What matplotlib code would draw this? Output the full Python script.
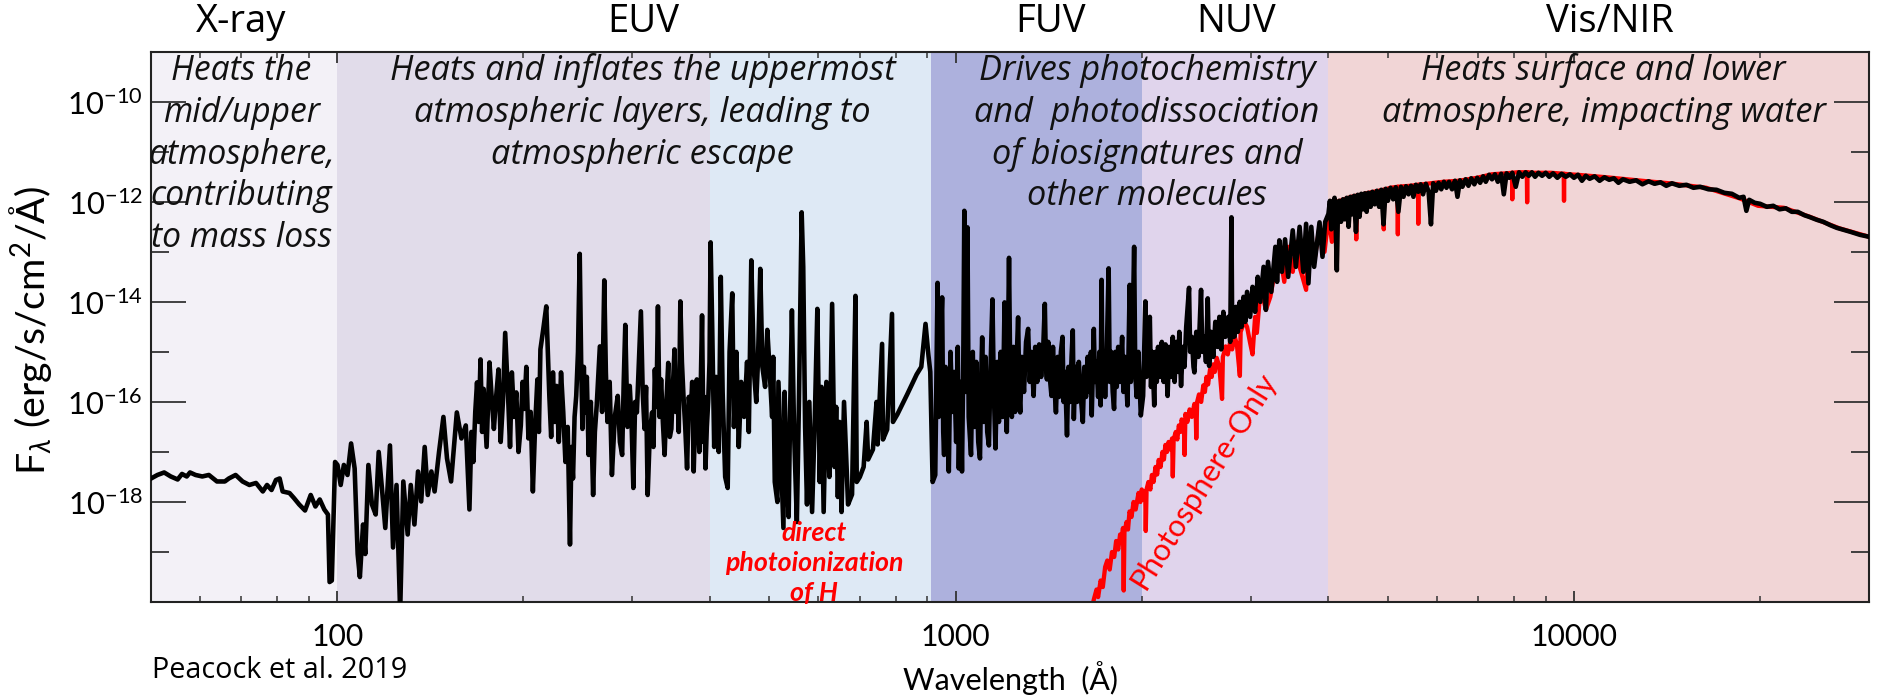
import numpy as np
import matplotlib
matplotlib.use('Agg')
import matplotlib.pyplot as plt
import matplotlib.transforms as mtransforms
from matplotlib.ticker import FixedLocator, FixedFormatter, NullFormatter

plt.rcParams.update({
    'font.family': 'Lato',
    'mathtext.fontset': 'custom',
    'mathtext.rm': 'Lato',
    'mathtext.it': 'Lato:italic',
    'mathtext.bf': 'Lato:bold',
})

# Spectral bands (Angstrom)
band_edges = [50, 100, 400, 912, 2000, 4000, 30000]
band_colors = ['#F3F1F7', '#E1DCEA', '#DEE9F5', '#ADB1DD', '#E0D4EC', '#F1D5D6']
band_names = ['X-ray', 'EUV', 'FUV', 'NUV', 'Vis/NIR']
band_name_wave = [70, 312, 1423, 2845, 11440]

# Full spectrum (black): (wavelength, log10 flux)
xray_pts = [(50.0, -17.53), (51.2, -17.46), (52.5, -17.41), (53.8, -17.49), (55.2, -17.55),
            (56.1, -17.44), (57.1, -17.49), (57.8, -17.41), (59.0, -17.46), (60.5, -17.49),
            (62.0, -17.46), (63.9, -17.59), (65.8, -17.59), (66.8, -17.53), (68.5, -17.46),
            (70.3, -17.59), (72.1, -17.66), (73.9, -17.62), (75.8, -17.79), (77.0, -17.66),
            (78.3, -17.76), (79.6, -17.56), (80.7, -17.53), (81.6, -17.79), (83.7, -17.82),
            (85.1, -17.92), (86.8, -18.05), (88.7, -18.17), (90.6, -17.86), (92.2, -18.09),
            (93.7, -17.95), (95.3, -18.15), (96.6, -18.25), (97.2, -19.60), (98.0, -19.57)]

euv_pts = [(99.2, -17.20), (100.1, -17.26), (101.3, -17.66), (102.5, -17.26), (103.9, -17.46),
           (105.3, -16.83), (106.7, -17.33), (107.9, -19.04), (108.8, -19.50), (110.1, -18.45),
           (111.0, -19.04), (112.3, -17.26), (113.8, -18.05), (115.4, -18.25), (116.7, -17.00),
           (118.1, -17.72), (119.6, -18.52), (121.7, -16.87), (123.1, -18.91), (124.7, -17.66),
           (126.4, -20.20), (127.9, -17.59), (130.0, -18.65), (131.5, -17.66), (133.3, -18.45),
           (135.1, -17.39), (136.7, -17.99), (138.5, -16.90), (140.1, -17.86), (142.0, -17.39),
           (143.7, -17.79), (146.1, -17.00), (148.5, -16.30), (150.5, -17.13), (152.8, -17.59),
           (156.1, -16.21), (158.8, -16.73), (161.4, -16.47), (162.5, -17.30), (163.6, -18.15),
           (164.8, -16.60), (166.0, -17.20), (167.2, -16.20), (168.3, -15.61), (169.4, -16.40),
           (170.5, -15.15), (171.5, -16.60), (172.5, -15.74), (174.4, -16.90), (176.3, -15.21),
           (177.7, -15.90), (179.2, -16.54), (180.7, -15.90), (182.3, -15.35), (183.8, -16.80),
           (185.3, -16.01), (186.9, -14.62), (189.1, -16.01), (190.3, -16.90), (191.6, -15.41),
           (193.2, -16.30), (194.8, -15.81), (196.4, -17.00), (198.1, -16.47), (199.4, -15.60),
           (200.7, -16.14), (202.2, -15.30), (203.8, -16.73), (205.5, -16.20), (207.2, -17.79),
           (208.9, -16.50), (210.7, -15.55), (211.9, -16.60), (213.1, -14.95), (215.3, -14.56),
           (217.8, -14.09), (220.3, -15.88), (221.8, -16.70), (223.3, -15.41), (224.8, -16.40),
           (226.3, -15.68), (228.2, -16.80), (230.1, -15.41), (232.0, -16.20), (233.9, -17.20),
           (235.9, -16.50), (237.9, -18.85), (239.2, -16.90), (240.6, -17.53), (242.0, -16.30),
           (243.5, -15.88), (245.1, -15.00), (246.7, -13.04), (248.0, -15.20), (249.2, -16.54),
           (250.5, -15.30), (251.7, -16.21), (253.3, -15.50), (255.0, -17.06), (257.1, -16.00),
           (259.3, -17.86), (261.0, -16.60), (262.8, -16.07), (265.9, -14.89), (268.1, -16.20),
           (270.3, -13.57), (271.9, -15.40), (273.5, -16.40), (275.8, -15.60), (278.1, -17.46),
           (281.1, -16.30), (284.2, -15.88), (286.5, -16.80), (288.9, -17.06), (290.6, -15.60),
           (292.3, -14.46), (294.7, -16.50), (297.2, -15.68), (299.2, -16.40), (301.2, -17.72),
           (303.2, -16.00), (305.2, -16.21), (307.5, -15.20), (309.8, -14.19), (311.9, -15.80),
           (314.0, -16.54), (315.8, -15.70), (317.7, -17.86), (320.3, -16.60), (323.0, -16.21),
           (324.6, -16.90), (326.3, -15.35), (328.2, -16.10), (330.1, -14.09), (332.0, -16.30),
           (334.0, -15.55), (336.2, -16.40), (338.4, -17.06), (340.7, -16.00), (343.0, -15.22),
           (345.0, -16.70), (347.0, -16.54), (349.0, -15.70), (351.1, -14.95), (352.8, -16.20),
           (354.6, -15.55), (356.7, -16.60), (358.8, -13.99), (360.9, -15.20), (363.0, -15.88),
           (365.4, -16.50), (367.9, -17.33), (370.3, -15.90), (372.8, -16.27), (375.0, -15.60),
           (377.1, -17.39), (379.3, -16.20), (381.5, -15.55), (383.2, -16.30), (385.0, -17.00),
           (387.0, -15.80), (389.0, -14.27), (391.0, -16.80), (392.5, -15.90), (394.0, -17.33),
           (396.0, -16.50), (398.0, -16.00), (400.0, -15.20)]

lyc_pts = [(401.6, -12.81), (404, -14.50), (407, -16.90), (410, -15.50), (414, -17.00),
           (417.1, -13.50), (420, -15.80), (424, -17.50), (428, -17.72), (431, -15.00),
           (435.3, -13.83), (438, -16.50), (442, -15.00), (446, -16.90), (450, -15.60),
           (455, -16.30), (460, -15.20), (463, -16.60), (467.3, -13.17), (472, -15.40),
           (476, -16.00), (479, -15.20), (483.2, -13.34), (487, -15.30), (492, -15.70),
           (496, -14.56), (500, -15.30), (505, -16.30), (507, -15.10), (510, -17.60),
           (515, -18.00), (517, -15.60), (520, -16.50), (526.7, -18.52), (529, -15.80),
           (532, -17.00), (537, -18.30), (540, -16.20), (543.6, -14.17), (548, -16.60),
           (553.7, -18.40), (558, -16.00), (563.7, -12.21), (567, -13.30), (571, -16.50),
           (575, -18.05), (580, -16.00), (583, -17.10), (586, -18.20), (591.8, -16.40),
           (597.6, -14.14), (603, -17.60), (607, -15.70), (611.8, -18.20), (618, -15.60),
           (625, -17.50), (631.4, -14.04), (637, -17.30), (641, -16.10), (645, -17.90),
           (649, -16.40), (653.9, -18.20), (660, -16.00), (670, -18.05), (680, -17.85),
           (688.7, -13.88), (692, -17.60), (700, -17.50), (710, -17.30), (718, -16.40),
           (722, -17.15), (735, -16.95), (745, -16.00), (748, -16.85), (760.5, -14.84),
           (763, -16.75), (775, -16.55), (789.1, -14.24), (792, -16.40), (805, -16.25),
           (820, -16.05), (835, -15.85), (850, -15.65), (865, -15.45), (880, -15.30),
           (894, -14.44), (904, -15.08)]

fuv_pts = [(910, -15.40), (918, -17.60), (927, -17.46), (932, -15.00), (935, -13.62),
           (939, -16.30), (945, -15.00), (951, -13.91), (955, -16.60), (958, -17.06),
           (963, -15.30), (969, -16.40), (975, -17.39), (981, -15.00), (988, -16.20),
           (995, -15.40), (1002, -16.80), (1008, -14.90), (1012, -17.33), (1018, -15.60),
           (1024, -17.39), (1029, -15.20), (1033, -12.18), (1038, -15.80), (1045, -12.51),
           (1050, -16.30), (1059, -17.06), (1066, -15.00), (1073, -16.50), (1080, -15.20),
           (1088, -16.80), (1095, -17.13), (1100, -15.50), (1104, -14.71), (1110, -16.40),
           (1118, -15.10), (1125, -16.60), (1132, -16.87), (1139, -15.30), (1147, -13.95),
           (1153, -15.80), (1160, -16.93), (1168, -15.20), (1175, -16.40), (1183, -15.00),
           (1192, -16.30), (1200, -14.01), (1206, -15.90), (1210, -16.60), (1215, -15.00),
           (1220, -13.12), (1226, -15.70), (1233, -16.30), (1240, -14.90), (1248, -16.20),
           (1255, -15.20), (1262, -14.31), (1268, -15.90), (1272, -16.21), (1280, -15.10),
           (1290, -15.80), (1300, -14.80), (1310, -14.54), (1318, -15.60), (1326, -15.00),
           (1337, -15.88), (1345, -14.90), (1355, -15.60), (1365, -14.85), (1375, -15.50),
           (1385, -15.00), (1394, -14.04), (1400, -15.30), (1405, -15.55), (1412, -14.80),
           (1420, -15.50), (1429, -15.88), (1437, -14.90), (1445, -15.70), (1453, -16.21),
           (1462, -15.10), (1470, -15.90), (1480, -15.00), (1489, -14.70), (1495, -16.00),
           (1503, -15.40), (1514, -16.67), (1522, -15.30), (1532, -16.00), (1540, -15.10),
           (1547, -14.57), (1553, -16.34), (1562, -15.30), (1572, -16.00), (1582, -15.20),
           (1594, -15.90), (1606, -16.40), (1615, -15.30), (1625, -15.90), (1635, -15.10),
           (1645, -15.80), (1655, -15.00), (1660, -16.27), (1673, -14.54), (1680, -15.60),
           (1690, -15.20), (1700, -15.90), (1708, -15.00), (1716, -16.07), (1722, -13.56),
           (1728, -15.50), (1735, -15.00), (1745, -15.90), (1755, -15.10), (1768, -13.33),
           (1775, -15.60), (1785, -15.00), (1795, -15.80), (1804, -16.14), (1812, -15.00),
           (1822, -15.70), (1832, -14.90), (1845, -15.60), (1859, -14.70), (1868, -15.80),
           (1880, -15.10), (1896, -16.07), (1904, -15.00), (1912, -13.66), (1920, -15.60),
           (1930, -15.10), (1944, -12.90), (1952, -15.40), (1962, -15.90), (1975, -15.00),
           (1993, -16.27)]

nuv_pts = [(2010, -15.88), (2020, -14.80), (2027, -13.99), (2035, -15.50), (2045, -15.00),
           (2061, -14.30), (2070, -15.70), (2080, -15.00), (2095, -16.07), (2105, -15.00),
           (2115, -15.60), (2125, -14.90), (2140, -15.50), (2155, -14.80), (2170, -15.60),
           (2185, -14.85), (2202, -15.88), (2215, -14.90), (2230, -15.50), (2245, -14.70),
           (2260, -15.60), (2275, -14.80), (2290, -15.40), (2300, -14.60), (2315, -15.68),
           (2330, -14.90), (2345, -15.30), (2360, -14.50), (2385, -13.72), (2395, -15.00),
           (2410, -14.70), (2425, -15.30), (2433, -15.41), (2450, -14.60), (2470, -15.10),
           (2494, -13.76), (2505, -15.00), (2525, -14.70), (2540, -15.20), (2557, -13.93),
           (2570, -15.28), (2590, -14.60), (2610, -15.10), (2630, -14.40), (2650, -14.90),
           (2670, -14.30), (2688, -14.95), (2710, -14.20), (2730, -14.70), (2760, -14.30),
           (2780, -14.80), (2793, -12.31), (2800, -14.40), (2815, -14.70), (2826, -14.69),
           (2840, -14.10), (2860, -14.60), (2880, -14.00), (2900, -14.50), (2921, -13.90),
           (2940, -14.40), (2960, -13.80), (2994, -14.30), (3021, -13.70), (3050, -14.20),
           (3080, -13.50), (3110, -14.00), (3148, -13.30), (3175, -14.16), (3200, -13.20),
           (3240, -13.80), (3289, -12.90), (3310, -13.60), (3338, -12.77), (3370, -13.40),
           (3410, -12.75), (3450, -13.50), (3509, -12.57), (3550, -13.30), (3600, -12.50),
           (3650, -13.40), (3688, -12.44), (3720, -13.63), (3760, -12.50), (3800, -13.30),
           (3877, -12.41), (3920, -13.10), (3960, -12.40)]

vis_pts = [(4008, -12.24), (4030, -11.98), (4050, -12.55), (4075, -12.05), (4100, -11.92),
           (4120, -12.60), (4135, -13.37), (4150, -12.30), (4170, -11.98), (4200, -12.40),
           (4230, -11.95), (4260, -12.35), (4290, -11.92), (4320, -12.50), (4350, -11.90),
           (4380, -12.25), (4410, -11.88), (4440, -12.60), (4470, -11.86), (4500, -12.30),
           (4530, -11.84), (4560, -12.15), (4590, -11.83), (4620, -12.20), (4650, -11.82),
           (4690, -12.10), (4720, -11.80), (4760, -12.05), (4800, -11.78), (4840, -12.10),
           (4880, -11.76), (4920, -12.45), (4960, -11.74), (5000, -11.98), (5050, -11.72),
           (5100, -11.95), (5150, -11.71), (5200, -12.20), (5250, -11.70), (5300, -11.90),
           (5350, -11.69), (5400, -11.85), (5450, -11.68), (5500, -11.90), (5550, -11.66),
           (5600, -11.80), (5650, -11.65), (5700, -11.85), (5760, -11.64), (5820, -11.80),
           (5871, -12.45), (5920, -11.63), (5980, -11.78), (6040, -11.62), (6100, -11.75),
           (6161, -11.60), (6220, -11.72), (6280, -11.60), (6350, -11.75), (6420, -11.58),
           (6480, -11.90), (6540, -11.57), (6600, -11.70), (6680, -11.55), (6750, -11.68),
           (6820, -11.53), (6900, -11.65), (6974, -11.52), (7050, -11.62), (7130, -11.49),
           (7200, -11.60), (7290, -11.46), (7368, -11.55), (7450, -11.45), (7530, -11.60),
           (7626, -11.44), (7700, -11.85), (7780, -11.43), (7860, -11.52), (7947, -11.42),
           (8050, -11.70), (8150, -11.41), (8250, -11.50), (8350, -11.41), (8450, -11.48),
           (8550, -11.41), (8650, -11.50), (8760, -11.42), (8880, -11.48), (9000, -11.42),
           (9120, -11.50), (9250, -11.43), (9400, -11.52), (9550, -11.44), (9700, -11.50),
           (9850, -11.45), (10000, -11.52), (10150, -11.46), (10300, -11.58), (10450, -11.48),
           (10600, -11.54), (10800, -11.49), (11000, -11.58), (11200, -11.51), (11400, -11.56),
           (11600, -11.53), (11800, -11.62), (12000, -11.55), (12300, -11.60), (12600, -11.57),
           (12900, -11.65), (13200, -11.59), (13500, -11.64), (13800, -11.61), (14100, -11.68),
           (14400, -11.63), (14800, -11.68), (15200, -11.66), (15600, -11.72), (16000, -11.70),
           (16500, -11.75), (17000, -11.76), (17500, -11.82), (18000, -11.84), (18500, -11.92),
           (18800, -11.90), (19000, -12.18), (19200, -11.96), (19600, -12.02), (20000, -12.04),
           (20500, -12.10), (21000, -12.08), (21500, -12.15), (22000, -12.13), (22500, -12.20),
           (23000, -12.20), (23600, -12.27), (24000, -12.30), (24700, -12.36), (25300, -12.40),
           (26000, -12.47), (26600, -12.52), (27300, -12.56), (28000, -12.60), (29000, -12.66),
           (30018, -12.70)]

# Photosphere-only model (red)
phot_pts = [(1650, -20.30), (1673, -19.95), (1690, -19.75), (1700, -19.90), (1716, -19.57),
            (1730, -19.70), (1745, -19.30), (1759, -19.17), (1775, -19.35), (1790, -19.00),
            (1805, -19.10), (1818, -18.78), (1832, -18.95), (1845, -18.65), (1855, -18.80),
            (1865, -18.52), (1870, -19.77), (1875, -18.60), (1890, -18.40), (1900, -18.55),
            (1911, -18.19), (1925, -18.30), (1940, -18.00), (1955, -18.15), (1976, -17.82),
            (1990, -18.00), (2000, -17.75), (2015, -17.95), (2026, -17.79), (2030, -18.58),
            (2036, -17.75), (2050, -17.60), (2065, -17.75), (2077, -17.46), (2090, -17.60),
            (2105, -17.30), (2118, -17.45), (2130, -17.16), (2145, -17.30), (2160, -17.00),
            (2172, -17.15), (2184, -16.86), (2197, -17.00), (2210, -16.80), (2225, -16.95),
            (2239, -16.73), (2245, -17.49), (2252, -16.75), (2270, -16.60), (2283, -16.75),
            (2296, -16.47), (2310, -16.60), (2320, -16.35), (2340, -16.50), (2346, -17.06),
            (2353, -16.24), (2370, -16.40), (2390, -16.15), (2410, -16.30), (2433, -16.04),
            (2445, -16.20), (2450, -16.73), (2458, -16.00), (2475, -15.85), (2495, -16.00),
            (2515, -15.67), (2530, -15.80), (2545, -15.50), (2560, -15.65), (2579, -15.35),
            (2595, -15.50), (2610, -15.25), (2625, -15.40), (2644, -15.12), (2670, -15.30),
            (2697, -15.94), (2705, -15.10), (2720, -15.00), (2733, -14.89), (2755, -15.05),
            (2780, -14.80), (2800, -14.95), (2826, -14.69), (2850, -14.85), (2882, -15.48),
            (2890, -14.60), (2910, -14.50), (2921, -14.36), (2960, -14.50), (2994, -14.82),
            (3021, -15.05), (3050, -14.30), (3070, -14.62), (3100, -14.00), (3148, -13.96),
            (3175, -14.16), (3228, -13.90), (3260, -13.60), (3309, -13.47), (3340, -13.00),
            (3400, -13.60), (3450, -12.90), (3509, -13.40), (3560, -12.80), (3600, -13.30),
            (3688, -13.76), (3720, -12.70), (3800, -13.20), (3877, -12.50), (3950, -13.00),
            (4008, -12.30), (4060, -12.80), (4130, -12.00), (4135, -13.30), (4140, -12.00),
            (4250, -11.95), (4369, -11.90), (4440, -11.88), (4445, -12.75), (4450, -11.88),
            (4617, -11.83), (4746, -11.80), (4920, -11.76), (4925, -12.55), (4930, -11.76),
            (5050, -11.72), (5185, -11.70), (5190, -12.65), (5195, -11.70), (5300, -11.69),
            (5443, -11.68), (5595, -11.66), (5600, -12.44), (5605, -11.66), (5700, -11.65),
            (5950, -11.62), (6161, -11.60), (6510, -11.58), (6974, -11.52), (7368, -11.45),
            (7800, -11.43), (7940, -11.42), (7947, -11.95), (7954, -11.42), (8100, -11.41),
            (8390, -11.41), (8399, -12.01), (8408, -11.41), (8600, -11.42), (9182, -11.42),
            (9625, -11.44), (9635, -11.98), (9645, -11.44), (9800, -11.45), (10111, -11.46),
            (11288, -11.51), (13131, -11.59), (14265, -11.63), (16366, -11.72), (18520, -11.93),
            (19847, -12.08), (21851, -12.12), (24058, -12.30), (26856, -12.53), (30018, -12.70)]

spec = np.array(xray_pts + euv_pts + lyc_pts + fuv_pts + nuv_pts + vis_pts)
phot = np.array(phot_pts)

# Descriptions for each band; the last entry is the line width (px) measured on the original
desc_blocks = [
    (70, ['Heats the', 'mid/upper', 'atmosphere,', 'contributing', 'to mass loss'],
     'atmosphere,', 187),
    (312, ['Heats and inflates the uppermost', 'atmospheric layers, leading to',
           'atmospheric escape'], 'Heats and inflates the uppermost', 505),
    (2040, ['Drives photochemistry', 'and  photodissociation', 'of biosignatures and',
            'other molecules'], 'and  photodissociation', 346),
    (11160, ['Heats surface and lower', 'atmosphere, impacting water'],
     'atmosphere, impacting water', 445),
]

fig = plt.figure(figsize=(18.79, 6.96), dpi=100)
renderer = fig.canvas.get_renderer()


def fit_size(text, target_px, **kw):
    t = fig.text(0, 0, text, fontsize=20, **kw)
    w = t.get_window_extent(renderer).width
    t.remove()
    return 20 * target_px / w


ax = fig.add_axes([0.0804, 0.135, 0.9143, 0.7907])
ax.set_xscale('log')
ax.set_yscale('log')
ax.set_xlim(50, 30000)
ax.set_ylim(1e-20, 1e-9)

for lo, hi, c in zip(band_edges[:-1], band_edges[1:], band_colors):
    ax.axvspan(lo, hi, color=c, lw=0, zorder=0)

ax.plot(phot[:, 0], 10.0 ** phot[:, 1], color='#FF0000', lw=3.1, zorder=2)
ax.plot(spec[:, 0], 10.0 ** spec[:, 1], color='black', lw=3.3, zorder=3)

trans = mtransforms.blended_transform_factory(ax.transData, ax.transAxes)

title_kw = dict(family='Open Sans')
title_fs = np.mean([fit_size('X-ray', 87, **title_kw), fit_size('EUV', 80, **title_kw),
                    fit_size('FUV', 69, **title_kw), fit_size('NUV', 77, **title_kw),
                    fit_size('Vis/NIR', 125, **title_kw)])
for name, w in zip(band_names, band_name_wave):
    ax.text(w, 1.054, name, transform=trans, ha='center', va='center', fontsize=title_fs,
            **title_kw)

desc_kw = dict(family='Open Sans', style='italic')
line_y = [0.965, 0.889, 0.813, 0.737, 0.661]
for w, lines, ref_line, ref_px in desc_blocks:
    fs = fit_size(ref_line, ref_px, **desc_kw)
    for i, s in enumerate(lines):
        ax.text(w, line_y[i], s, transform=trans, ha='center', va='center', fontsize=fs,
                color='#111111', zorder=4, **desc_kw)

red_kw = dict(style='italic', weight='bold')
red_fs = fit_size('photoionization', 178, **red_kw)
for s, yy in zip(['direct', 'photoionization', 'of H'], [0.125, 0.071, 0.017]):
    ax.text(591, yy, s, transform=trans, ha='center', va='center', color='#FF0000',
            fontsize=red_fs, zorder=4, **red_kw)
ax.text(2515, 0.22, 'Photosphere-Only', transform=trans, ha='center', va='center',
        color='#FF0000', fontsize=fit_size('Photosphere-Only', 250), rotation=58, zorder=4)

# Axes, ticks
ax.xaxis.set_major_locator(FixedLocator([100, 1000, 10000]))
ax.xaxis.set_major_formatter(FixedFormatter(['100', '1000', '10000']))
ax.xaxis.set_minor_locator(FixedLocator([60, 70, 80, 90, 200, 300, 400, 500, 600, 700, 800,
                                         900, 2000, 3000, 4000, 5000, 6000, 7000, 8000,
                                         9000, 20000]))
ax.xaxis.set_minor_formatter(NullFormatter())
ax.yaxis.set_major_locator(FixedLocator([1e-18, 1e-16, 1e-14, 1e-12, 1e-10]))
ax.yaxis.set_major_formatter(FixedFormatter([r'$10^{-18}$', r'$10^{-16}$', r'$10^{-14}$',
                                             r'$10^{-12}$', r'$10^{-10}$']))
ax.yaxis.set_minor_locator(FixedLocator([1e-19, 1e-17, 1e-15, 1e-13, 1e-11]))
ax.yaxis.set_minor_formatter(NullFormatter())

ax.tick_params(which='both', direction='in', top=True, right=True, color='#333333')
ax.tick_params(axis='y', which='major', length=25, width=1.3, pad=6,
               labelsize=fit_size(r'$10^{-10}$', 76))
ax.tick_params(axis='y', which='minor', length=13, width=1.3)
ax.tick_params(axis='x', which='major', length=8, width=1.3, pad=15,
               labelsize=fit_size('1000', 70))
ax.tick_params(axis='x', which='minor', length=4.5, width=1.1)
for sp in ax.spines.values():
    sp.set_linewidth(1.5)
    sp.set_color('#222222')

ax.text(0.5, -0.138, 'Wavelength  (Å)', transform=ax.transAxes, ha='center', va='center',
        fontsize=fit_size('Wavelength  (Å)', 216))
ylab = r'F$_\lambda$ (erg/s/cm$^2$/Å)'
ax.text(-0.07, 0.494, ylab, transform=ax.transAxes, ha='center', va='center', rotation=90,
        fontsize=fit_size(ylab, 290))
ax.text(0.0006, -0.1236, 'Peacock et al. 2019', transform=ax.transAxes, ha='left',
        va='center', fontsize=fit_size('Peacock et al. 2019', 254, family='Open Sans'),
        family='Open Sans')

fig.savefig('out.png', dpi=100)
